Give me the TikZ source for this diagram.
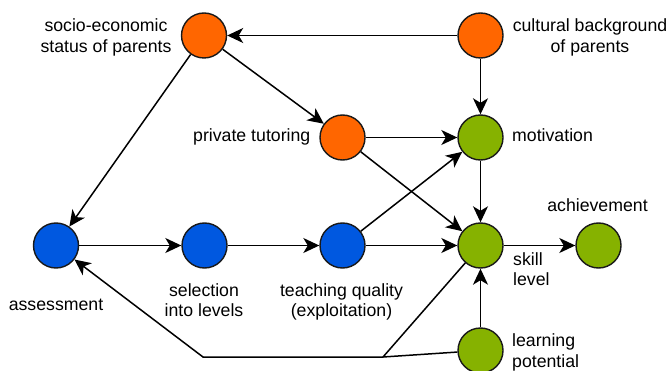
\documentclass[tikz,border=0pt]{standalone}
\usepackage{fontspec}
\setmainfont{Liberation Sans}
\usetikzlibrary{arrows.meta}
\definecolor{orng}{RGB}{255,102,0}
\definecolor{blu}{RGB}{0,88,224}
\definecolor{grn}{RGB}{134,178,0}
\tikzset{
  nd/.style={circle,draw=black!90,line width=1.4pt,minimum size=45pt,inner sep=0pt},
  on/.style={nd,fill=orng},
  bn/.style={nd,fill=blu},
  gn/.style={nd,fill=grn},
  lbl/.style={font=\fontsize{17.7}{20.5}\selectfont,inner sep=0pt,align=center},
  arr/.style={line width=1.5pt,-{Stealth[length=16pt,width=15pt,inset=4.5pt]}},
  ln/.style={line width=1.5pt},
}
\begin{document}
\begin{tikzpicture}[x=1pt,y=-1pt]
\useasboundingbox (0,0) rectangle (668,371);
\node[on] (ses) at (204,35.5) {};
\node[on] (cul) at (480.5,35.5) {};
\node[on] (pt) at (342.5,137.5) {};
\node[gn] (mot) at (480.5,137.5) {};
\node[bn] (as) at (56,245.5) {};
\node[bn] (sel) at (204.5,245.5) {};
\node[bn] (tq) at (342.5,245.5) {};
\node[gn] (sk) at (480.5,245.5) {};
\node[gn] (ach) at (598.5,245.5) {};
\node[gn] (lp) at (480.5,350.5) {};
\coordinate (j1) at (383,357);
\coordinate (j2) at (203,357);

\node[lbl] (lses) at (106,37.9) {\strut socio-economic\\\strut status of parents};
\node[lbl] (lcul) at (590,37.9) {\strut cultural background\\\strut of parents};
\node[lbl,anchor=east] (lpt) at (310.5,137.4) {\strut private tutoring};
\node[lbl,anchor=west] (lmot) at (512,137.4) {\strut motivation};
\node[lbl] (lach) at (597.5,207.6) {\strut achievement};
\node[lbl] (las) at (56,305.9) {\strut assessment};
\node[lbl] (lsel) at (204,302.2) {\strut selection\\\strut into levels};
\node[lbl] (ltq) at (341.5,302.2) {\strut teaching quality\\\strut (exploitation)};
\node[lbl,align=left,anchor=west] (lsk) at (513,271.2) {\strut skill\\\strut level};
\node[lbl,align=left,anchor=west] (llp) at (512,352.8) {\strut learning\\\strut potential};

\draw[arr] (cul) -- (ses);
\draw[arr] (cul) -- (mot);
\draw[arr] (ses) -- (pt);
\draw[arr] (ses) -- (as);
\draw[arr] (pt) -- (mot);
\draw[arr] (pt) -- (sk);
\draw[arr] (mot) -- (sk);
\draw[arr] (tq) -- (mot);
\draw[arr] (tq) -- (sk);
\draw[arr] (as) -- (sel);
\draw[arr] (sel) -- (tq);
\draw[arr] (sk) -- (ach);
\draw[arr] (lp) -- (sk);
\draw[ln] (lp) -- (j1);
\draw[ln] (sk) -- (j1);
\draw[arr,line join=miter] (j1) -- (j2) -- (as);
\end{tikzpicture}
\end{document}
